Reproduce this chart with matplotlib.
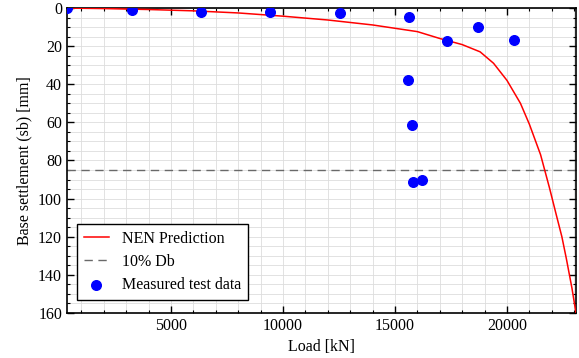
import matplotlib
matplotlib.use('Agg')
import matplotlib.pyplot as plt
from matplotlib.ticker import MultipleLocator

# NEN prediction curve
nen_load = [0, 2000, 4000, 6000, 8000, 10000, 12000, 14000, 16000, 17000,
            18000, 18800, 19400, 20000, 20600, 21000, 21500, 21900, 22200,
            22450, 22650, 22900, 23080]
nen_settlement = [0, 0.3, 0.8, 1.5, 2.6, 4.3, 6.3, 8.9, 12.4, 16.0,
                  19.2, 23.0, 29.0, 38.0, 50.0, 61.0, 77.0, 94.5, 108.5,
                  120.0, 131.5, 147.0, 160.0]

# measured test data
test_load = [360, 3260, 6340, 9420, 12540, 15630, 18700, 17320, 20310,
             15580, 15760, 15800, 16190]
test_settlement = [0, 1.0, 2.0, 2.3, 2.8, 4.9, 9.8, 17.3, 16.6,
                   37.8, 61.2, 91.5, 90.2]

db_limit = 85  # 10% of base diameter

plt.rcParams['font.family'] = ['Liberation Serif', 'DejaVu Serif']
plt.rcParams['font.size'] = 11

fig = plt.figure(figsize=(5.79, 3.58), dpi=100)
ax = fig.add_axes([0.1157, 0.1257, 0.8791, 0.852])

ax.plot(nen_load, nen_settlement, color='red', lw=1.1, label='NEN Prediction', zorder=3)
ax.axhline(db_limit, color='dimgray', lw=1.0, ls=(0, (6, 4)), label='10% Db', zorder=2)
ax.scatter(test_load, test_settlement, s=48, color='blue', label='Measured test data',
           zorder=4)

ax.set_xlim(360, 23080)
ax.set_ylim(160, 0)
ax.xaxis.set_major_locator(MultipleLocator(5000))
ax.xaxis.set_minor_locator(MultipleLocator(1000))
ax.yaxis.set_major_locator(MultipleLocator(20))
ax.yaxis.set_minor_locator(MultipleLocator(5))
ax.tick_params(which='both', direction='in', top=True, right=True)
ax.tick_params(which='major', length=5, width=1)
ax.tick_params(which='minor', length=2.5, width=0.8)
ax.tick_params(labelsize=11.5)
ax.grid(which='both', color='#dddddd', lw=0.6)
ax.set_axisbelow(True)
for s in ax.spines.values():
    s.set_linewidth(1.2)

ax.set_xlabel('Load [kN]', fontsize=11.5)
ax.set_ylabel('Base settlement (sb) [mm]', fontsize=11.5)

leg = ax.legend(loc='lower left', bbox_to_anchor=(0.003, 0.015), fancybox=False,
                edgecolor='black', framealpha=1, handlelength=1.6,
                scatterpoints=1, borderpad=0.45, labelspacing=0.45, fontsize=11.5)
leg.get_frame().set_linewidth(1.0)

fig.savefig('out.png', dpi=100)
